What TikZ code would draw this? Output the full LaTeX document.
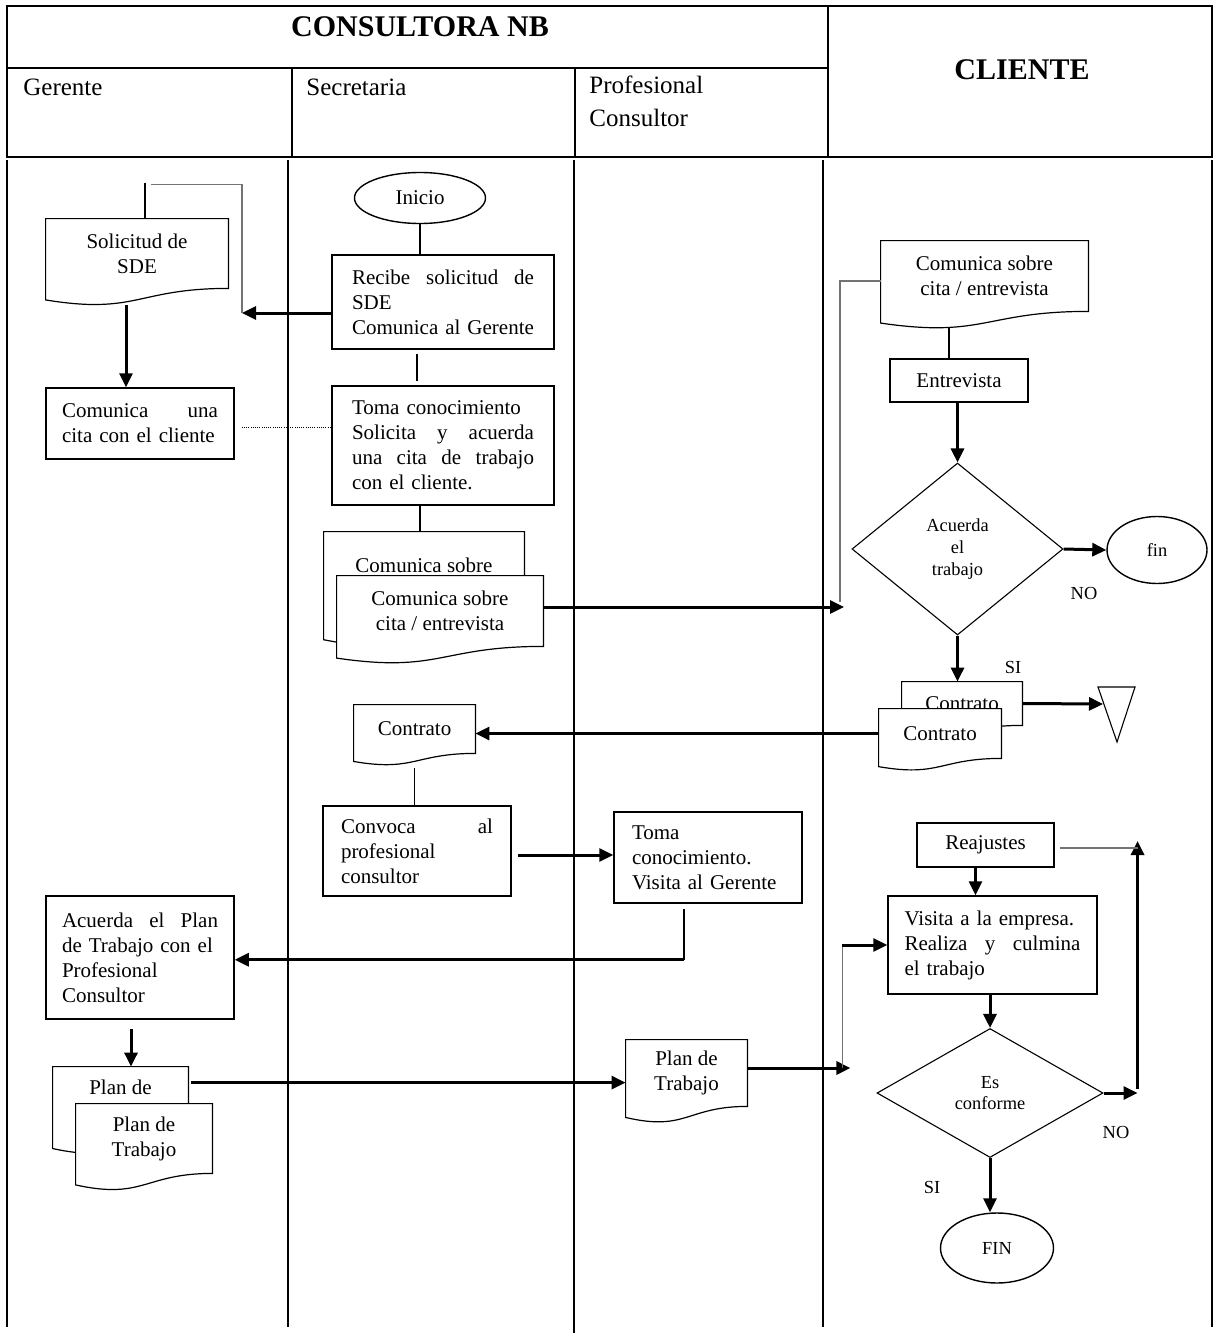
\documentclass[tikz,border=0pt]{standalone}
\usepackage{fontspec}
\setmainfont{Liberation Serif}
\usetikzlibrary{shapes.geometric, arrows.meta, calc}
\hyphenpenalty=10000
\exhyphenpenalty=10000
\newcommand{\flowfont}{\fontsize{10.5}{12.5}\selectfont}
\newcommand{\tinyflow}{\fontsize{9.2}{10.8}\selectfont}
\newcommand{\lanefont}{\fontsize{12.5}{16.5}\selectfont}
\newcommand{\headfont}{\fontsize{15}{18}\selectfont\bfseries}
\tikzset{
    procbox/.style={rectangle, draw, line width=0.75pt, font=\flowfont, inner xsep=10pt, inner ysep=0pt, align=left},
    docbox/.style={rectangle, inner sep=0pt},
    doctext/.style={font=\flowfont, align=center, inner sep=0pt},
    docline/.style={draw, fill=white, line width=0.6pt},
    termnode/.style={ellipse, draw, line width=0.7pt, inner sep=0pt, font=\flowfont},
    decision/.style={diamond, draw, line width=0.55pt, inner sep=0pt, font=\tinyflow, align=center},
    lane/.style={line width=1.1pt},
    arr/.style={-{Triangle[length=7pt, width=6.5pt]}, line width=1.5pt},
    link/.style={line width=0.55pt},
    graylink/.style={line width=0.55pt, black!55},
    dotlink/.style={line width=0.5pt, dash pattern=on 0.5pt off 0.6pt},
}
% document symbol: name, centre, width, height, text
\newcommand{\docnode}[5]{%
    \node[docbox, minimum width=#3, minimum height=#4] (#1) at (#2) {};
    \path[docline] ($(#1.south west)!-0.165!(#1.north west)$) -- (#1.north west) -- (#1.north east) -- (#1.south east)
        .. controls (#1.south) and ($(#1.south)!-0.38!(#1.north)$) .. ($(#1.south west)!-0.165!(#1.north west)$) -- cycle;
    \node[doctext] (#1-txt) at (#1.center) {#5};
}

\begin{document}
\begin{tikzpicture}[
    x=0.5pt, y=-0.5pt,
    lbl/.style={font=\tinyflow, inner sep=0pt},
    hdr/.style={font=\lanefont, inner sep=0pt, align=left}
]
\useasboundingbox[fill=white] (0,0) rectangle (1218,1333);

% header
\draw[lane] (7,6) rectangle (1212,157);
\draw[lane] (7,68) -- (828,68);
\draw[lane] (828,6) -- (828,157);
\draw[lane] (292,68) -- (292,157);
\draw[lane] (575,68) -- (575,157);
\node[font=\headfont] (hcons) at (420,27) {CONSULTORA NB};
\node[font=\headfont] (hcli) at (1022,70) {CLIENTE};
\node[hdr, anchor=base west] (hger) at (23,95) {Gerente};
\node[hdr, anchor=base west] (hsec) at (306,95) {Secretaria};
\node[hdr, anchor=north west] (hprof) at (589,75) {Profesional\\Consultor};

% lanes
\foreach \lx in {7,288,823,1212}
    \draw[lane] (\lx,160) -- (\lx,1327);
\draw[lane] (574,160) -- (574,1333);

% Gerente
\docnode{sol}{137,253.5}{91pt}{34.5pt}{Solicitud de\\SDE}
\node[procbox, text width=78pt, inner xsep=8pt, minimum height=35.5pt] (cuna) at (140,423.5) {Comunica\hfill una\\cita con el cliente};
\node[procbox, text width=78pt, inner xsep=8pt, minimum height=61.5pt] (acp) at (140,957.5) {Acuerda\hfill el\hfill Plan\\de Trabajo con el\\Profesional\\Consultor};
\docnode{planb}{120.5,1101.75}{67.5pt}{34.75pt}{Plan de\\\phantom{Trabajo}}
\docnode{planf}{144,1138.5}{68pt}{34.5pt}{Plan de\\Trabajo}

% Secretaria
\node[termnode, minimum width=65.5pt, minimum height=25.5pt] (ini) at (420,198) {Inicio};
\node[procbox, text width=91pt, minimum height=47pt] (recibe) at (443,302) {Recibe\hfill solicitud\hfill de\\SDE\\Comunica al Gerente};
\node[procbox, text width=91pt, minimum height=59.5pt] (toma) at (443,445.5) {Toma conocimiento\\Solicita\hfill y\hfill acuerda\\una\hfill cita\hfill de\hfill trabajo\\con el cliente.};
\docnode{commb}{424,578}{100pt}{46pt}{Comunica sobre\\\phantom{cita / entrevista}}
\docnode{commf}{440,611}{103pt}{35pt}{Comunica sobre\\cita / entrevista}
\docnode{sctr}{414.5,729}{60.5pt}{24pt}{Contrato}
\node[procbox, text width=76pt, inner xsep=9pt, minimum height=45pt] (conv) at (417,851) {Convoca\hfill al\\profesional\\consultor};

% Profesional Consultor
\node[procbox, text width=76pt, inner xsep=9pt, minimum height=45.5pt] (tcon) at (708,857.5) {Toma\\conocimiento.\\Visita al Gerente};
\docnode{pdoc}{686.5,1073}{60.5pt}{33pt}{Plan de\\Trabajo}

% Cliente
\docnode{cdoc}{984.5,276}{103.5pt}{35pt}{Comunica sobre\\cita / entrevista}
\node[procbox, align=center, inner xsep=0pt, minimum width=69pt, minimum height=21.5pt] (entre) at (959,380.5) {Entrevista};
\node[decision, minimum width=105.5pt, minimum height=86pt] (acu) at (957.5,549) {Acuerda\\el\\trabajo};
\node[termnode, font=\tinyflow, minimum width=50pt, minimum height=33.5pt] (fin) at (1157,550) {fin};
\node[lbl] (no1) at (1084,593) {NO};
\node[lbl] (si1) at (1013,667) {SI};
\docnode{ctrb}{962,703.5}{60pt}{21.5pt}{Contrato}
\docnode{ctrf}{940,733.5}{61pt}{24.5pt}{Contrato}
\coordinate (arch) at (1103,704);
\draw[link] ($(arch)+(-5,-17)$) -- ($(arch)+(32,-17)$) -- ($(arch)+(14,38)$) -- cycle;
\node[procbox, align=center, inner xsep=0pt, minimum width=68.5pt, minimum height=22pt] (reaj) at (985.5,845) {Reajustes};
\node[procbox, text width=88pt, inner xsep=8.25pt, minimum height=49pt] (visita) at (992.5,945) {Visita a la empresa.\\Realiza\hfill y\hfill culmina\\el trabajo};
\node[decision, minimum width=113pt, minimum height=64.5pt] (conf) at (990,1093) {Es\\conforme};
\node[lbl] (no2) at (1116,1132) {NO};
\node[lbl] (si2) at (932,1187) {SI};
\node[termnode, font=\tinyflow, minimum width=56.5pt, minimum height=35pt] (fin2) at (997,1248) {FIN};

% connectors
\draw[link] (ini.south) -- (ini.south |- recibe.north);
\coordinate (gIn) at (242,313);
\draw[arr] (recibe.west |- gIn) -- (gIn);
\draw[graylink] (gIn) |- ($(sol.north)+(14,-34)$);
\draw[link] ($(sol.north)+(8,-36)$) -- ($(sol.north)+(8,0)$);
\draw[arr] ($(sol.south)+(-11,17)$) -- ($(cuna.north)+(-14,0)$);
\coordinate (dotA) at ($(cuna.east)+(7,4)$);
\draw[dotlink] (dotA) -- (dotA -| toma.west);
\draw[link] ($(recibe.south -| ini.south)+(-3,4)$) -- ($(toma.north -| ini.south)+(-3,-4)$);
\draw[link] (toma.south -| ini.south) -- (commb.north -| ini.south);
\coordinate (cIn) at (844,607);
\draw[arr] (commf.east |- cIn) -- (cIn);
\draw[graylink] ($(cIn)+(-4,-5)$) |- ($(cdoc.west)+(0,5)$);
\draw[link] ($(entre.north)+(-10,-31)$) -- ($(entre.north)+(-10,0)$);
\draw[arr] (acu.north |- entre.south) -- (acu.north);
\draw[arr] (acu.east) -- (fin.west);
\draw[arr] (acu.south) -- (acu.south |- ctrb.north);
\draw[arr] (ctrb.east) -- (arch);
\draw[arr] (ctrf.west) -- (ctrf.west -| sctr.east);
\draw[link] ($(sctr.south)+(0,15)$) -- (sctr.south |- conv.north);
\coordinate (cvOut) at ($(conv.east)+(6,4)$);
\draw[arr] (cvOut) -- (cvOut -| tcon.west);
\coordinate (tDown) at ($(tcon.south)+(-24,56)$);
\draw[link] ($(tcon.south)+(-24,5)$) -- (tDown);
\draw[arr] (tDown) -- (tDown -| acp.east);
\coordinate (aDown) at ($(acp.south)+(-9,9)$);
\draw[arr] (aDown) -- (aDown |- planb.north);
\coordinate (pOut) at ($(planb.north east)+(3,16)$);
\draw[arr] (pOut) -- (pOut -| pdoc.west);
\coordinate (vIn) at ($(pdoc.east)+(103,-5)$);
\draw[arr] ($(pdoc.east)+(0,-5)$) -- (vIn);
\coordinate (vUp) at ($(vIn)+(-8,0)$);
\draw[graylink] (vUp) -- (vUp |- visita.west);
\draw[arr] (vUp |- visita.west) -- (visita.west);
\coordinate (rDown) at ($(reaj.south)+(-10,0)$);
\draw[arr] (rDown) -- (rDown |- visita.north);
\draw[arr] (conf.north |- visita.south) -- (conf.north);
\coordinate (nUp) at ($(conf.east)+(34,0)$);
\draw[arr] (conf.east) -- (nUp);
\coordinate (nTop) at ($(nUp |- reaj.east)+(0,-4)$);
\draw[arr] ($(nUp)+(0,-4)$) -- (nTop);
\draw[graylink] ($(reaj.east)+(5,3)$) -- ($(nUp |- reaj.east)+(0,3)$);
\draw[arr] (conf.south) -- (conf.south |- fin2.north);

\end{tikzpicture}
\end{document}
